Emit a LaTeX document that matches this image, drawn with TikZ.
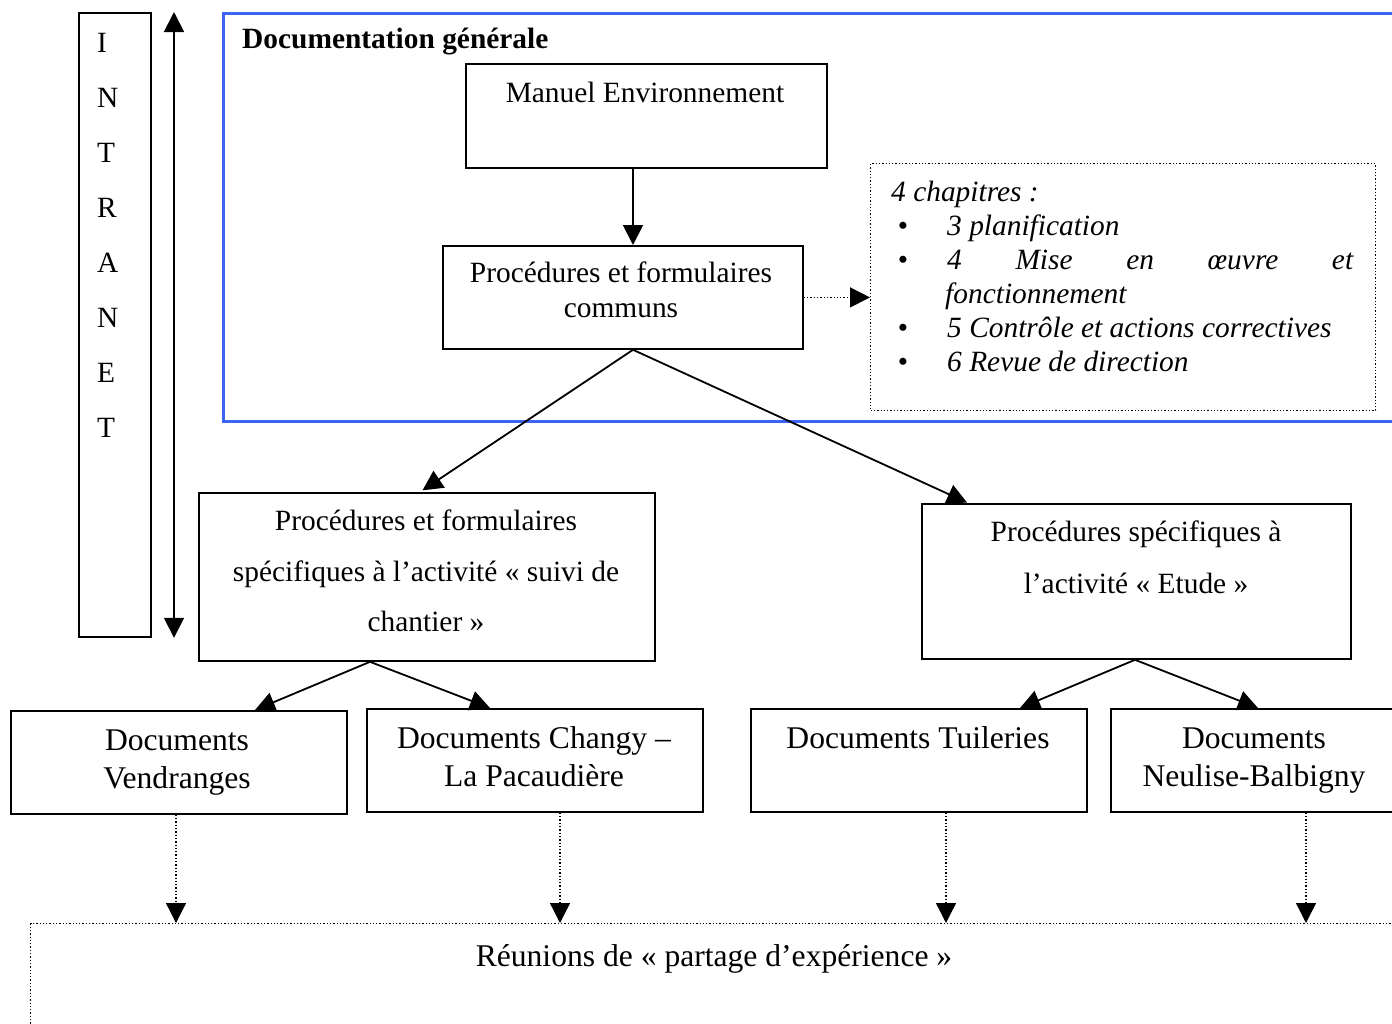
\documentclass[tikz,border=0pt]{standalone}
\usepackage{fontspec}
\setmainfont{Liberation Serif}
\usetikzlibrary{arrows.meta}
\definecolor{docblue}{RGB}{60,100,240}
\begin{document}
\begin{tikzpicture}[x=1pt,y=-1pt,
  box/.style={draw, line width=1.8pt, inner sep=0pt, anchor=north west},
  dotbox/.style={draw, dotted, line width=1.5pt, inner sep=0pt, anchor=north west},
  txt/.style={anchor=base, inner sep=0pt, font=\fontsize{29.4}{35}\selectfont},
  bigtxt/.style={anchor=base, inner sep=0pt, font=\fontsize{31.6}{38}\selectfont},
  itxt/.style={anchor=base west, inner sep=0pt, font=\fontsize{29.4}{34}\selectfont\itshape},
  bul/.style={anchor=base, inner sep=0pt, font=\fontsize{29.4}{34}\selectfont},
  tip/.style={-{Triangle[length=20pt,width=20pt]}},
  arr/.style={tip, line width=1.8pt},
  darr/.style={tip, dotted, line width=1.5pt},
]
\useasboundingbox (0,0) rectangle (1392,1023);
\clip (0,0) rectangle (1392,1023);

% Intranet column
\node[box, minimum width=72pt, minimum height=624pt] (intranet) at (78,12) {};
\foreach \l [count=\i from 0] in {I,N,T,R,A,N,E,T}
  \node[txt, anchor=base west] (l\i) at (97,52+55*\i) {\l};
\draw[{Triangle[length=20pt,width=20pt]}-{Triangle[length=20pt,width=20pt]}, line width=1.8pt]
  (intranet.north -| 174,0) -- (intranet.south -| 174,0);

% General documentation frame
\node[draw=docblue, line width=2.5pt, inner sep=0pt, anchor=north west,
      minimum width=1180pt, minimum height=408pt] (gen) at (222,12) {};
\node[txt, anchor=base west, font=\fontsize{29.4}{35}\selectfont\bfseries] (gentitle) at (242,48) {Documentation générale};

\node[box, minimum width=361pt, minimum height=104pt] (manuel) at (465,63) {};
\node[txt] (tmanuel) at (645,102) {Manuel Environnement};

\node[box, minimum width=360pt, minimum height=103pt] (communs) at (442,245) {};
\node[txt] (tcom1) at (621,282) {Procédures et formulaires};
\node[txt] (tcom2) at (621,317) {communs};

\draw[arr] (manuel.south -| 633,0) -- (communs.north -| 633,0);

% Chapters
\node[dotbox, line width=1.3pt, minimum width=505pt, minimum height=247pt] (chap) at (870,163) {};
\node[itxt] (tchap) at (891,201) {4 chapitres :};
\foreach \y [count=\k] in {235,269,337,371}
  \node[bul] (b\k) at (903,\y) {\textbullet};
\node[itxt] (c1) at (947,235) {3 planification};
\node[itxt] (c2) at (947,269) {\makebox[406pt][s]{4 Mise en œuvre et}};
\node[itxt] (c3) at (945,303) {fonctionnement};
\node[itxt] (c4) at (947,337) {5 Contrôle et actions correctives};
\node[itxt] (c5) at (947,371) {6 Revue de direction};

\draw[darr, line width=1.3pt] (communs.east) -- (communs.east -| chap.west);

% Activity-specific procedures
\node[box, minimum width=456pt, minimum height=168pt] (suivi) at (198,492) {};
\node[txt] (ts1) at (426,530) {Procédures et formulaires};
\node[txt] (ts2) at (426,581) {spécifiques à l’activité « suivi de};
\node[txt] (ts3) at (426,631) {chantier »};

\node[box, minimum width=429pt, minimum height=155pt] (etude) at (921,503) {};
\node[txt] (te1) at (1136,541) {Procédures spécifiques à};
\node[txt] (te2) at (1136,593) {l’activité « Etude »};

\draw[arr, shorten >=3pt] (communs.south -| 633,0) -- (suivi.north -| 420,0);
\draw[arr, shorten >=1pt] (communs.south -| 633,0) -- (etude.north -| 968,0);

% Site documents
\node[box, minimum width=336pt, minimum height=103pt] (vend) at (10,710) {};
\node[bigtxt] (tv1) at (177,750) {Documents};
\node[bigtxt] (tv2) at (177,788) {Vendranges};

\node[box, minimum width=336pt, minimum height=103pt] (chang) at (366,708) {};
\node[bigtxt] (tc1) at (534,748) {Documents Changy –};
\node[bigtxt] (tc2) at (534,786) {La Pacaudière};

\node[box, minimum width=336pt, minimum height=103pt] (tuil) at (750,708) {};
\node[bigtxt] (tt1) at (918,748) {Documents Tuileries};

\node[box, minimum width=300pt, minimum height=103pt] (neul) at (1110,708) {};
\node[bigtxt] (tn1) at (1254,748) {Documents};
\node[bigtxt] (tn2) at (1254,786) {Neulise-Balbigny};

\draw[arr] (suivi.south -| 370,0) -- (vend.north -| 255,0);
\draw[arr] (suivi.south -| 370,0) -- (chang.north -| 490,0);
\draw[arr] (etude.south -| 1135,0) -- (tuil.north -| 1020,0);
\draw[arr] (etude.south -| 1135,0) -- (neul.north -| 1258,0);

% Experience sharing meetings
\node[dotbox, line width=1.3pt, minimum width=1400pt, minimum height=200pt] (reun) at (30,923) {};
\node[bigtxt] (treun) at (714,966) {Réunions de « partage d’expérience »};

\draw[darr, line width=1.3pt] (vend.south -| 176,0) -- (reun.north -| 176,0);
\draw[darr, line width=1.3pt] (chang.south -| 560,0) -- (reun.north -| 560,0);
\draw[darr, line width=1.3pt] (tuil.south -| 946,0) -- (reun.north -| 946,0);
\draw[darr, line width=1.3pt] (neul.south -| 1306,0) -- (reun.north -| 1306,0);
\end{tikzpicture}
\end{document}
